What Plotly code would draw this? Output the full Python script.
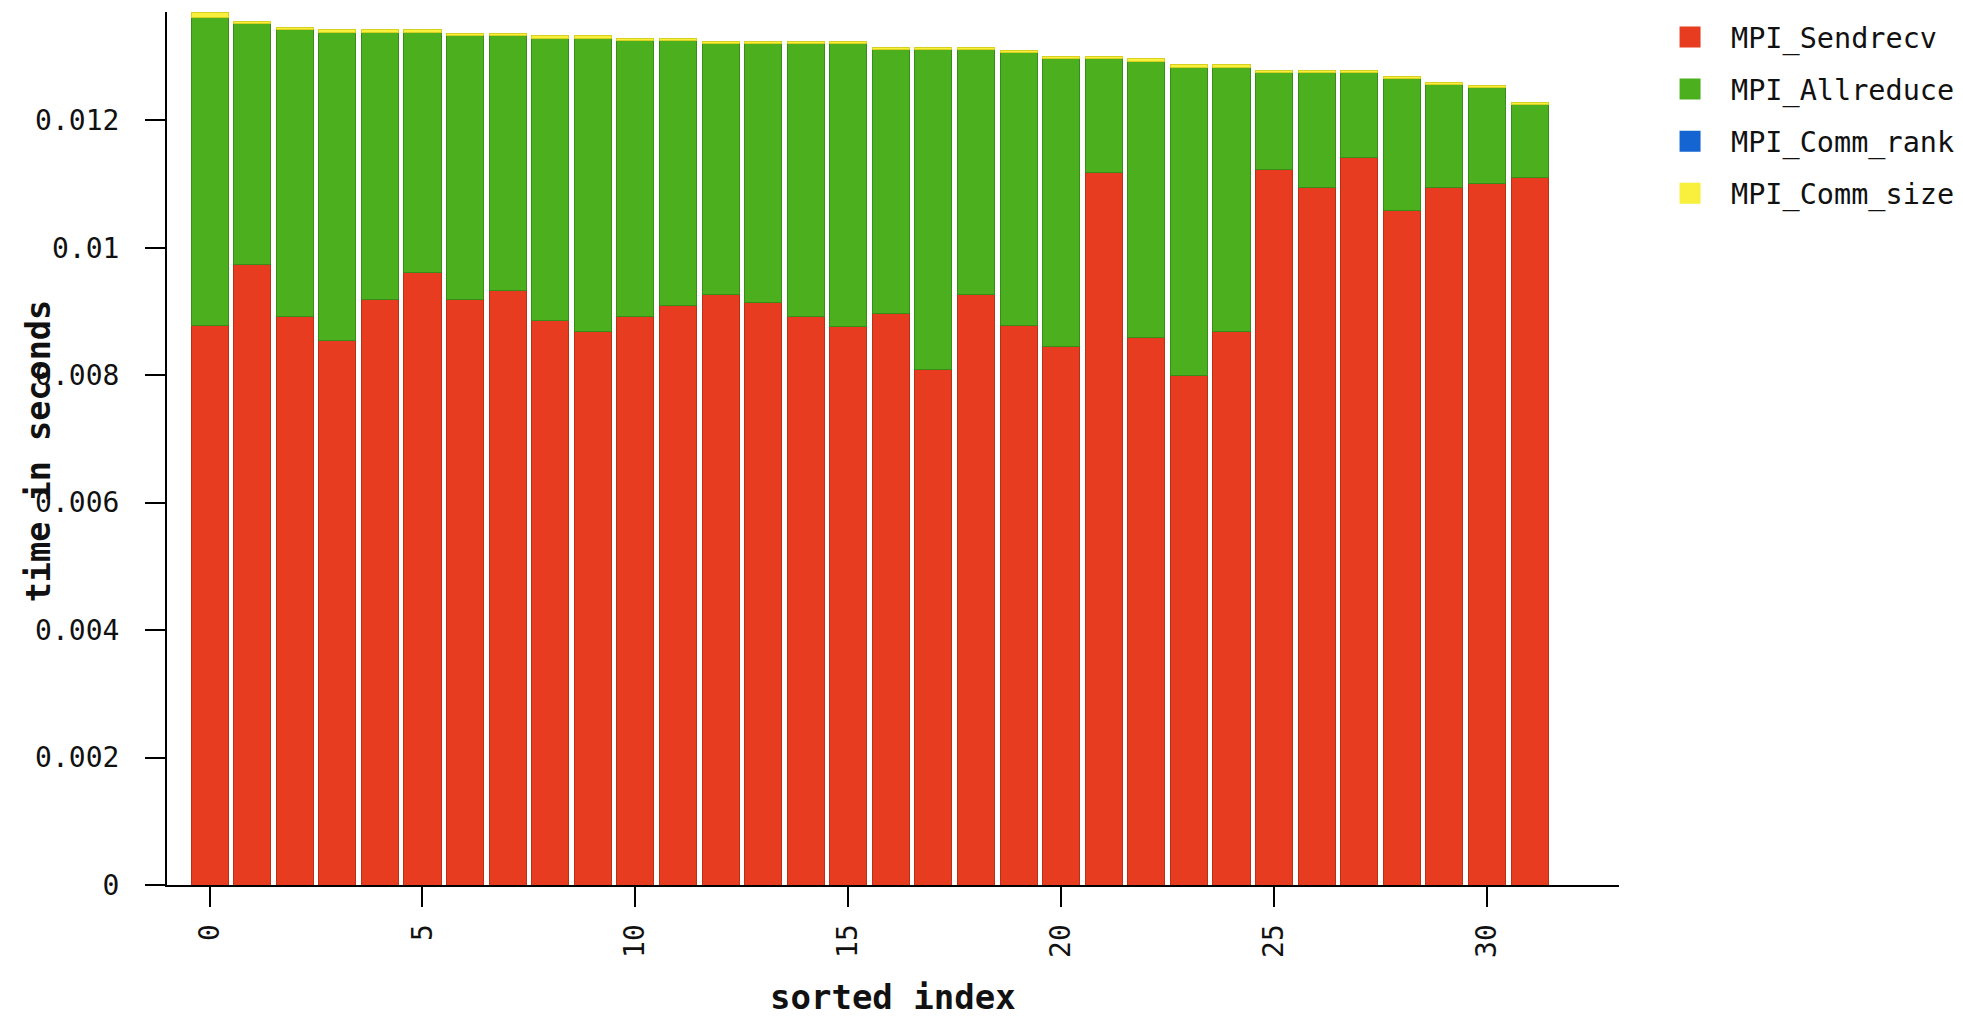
import plotly.graph_objects as go

# ---- data ----
sorted_index = list(range(32))

mpi_sendrecv = [0.008785, 0.009741, 0.008926, 0.008550, 0.009193, 0.009605, 0.009193, 0.009334,
                0.008863, 0.008691, 0.008915, 0.009099, 0.009271, 0.009135, 0.008915, 0.008770,
                0.008968, 0.008096, 0.009271, 0.008785, 0.008456, 0.011188, 0.008592, 0.008002,
                0.008680, 0.011230, 0.010953, 0.011414, 0.010588, 0.010953, 0.011006, 0.011100]

mpi_allreduce = [0.004832, 0.003773, 0.004494, 0.004828, 0.004185, 0.003773, 0.004143, 0.004002,
                 0.004421, 0.004593, 0.004335, 0.004149, 0.003930, 0.004066, 0.004286, 0.004431,
                 0.004143, 0.005015, 0.003840, 0.004284, 0.004519, 0.001787, 0.004331, 0.004832,
                 0.004154, 0.001515, 0.001792, 0.001331, 0.002069, 0.001610, 0.001514, 0.001144]

mpi_comm_rank = [0.000002] * 32

mpi_comm_size = [0.00008, 0.00004, 0.00003, 0.00005, 0.00004, 0.00004, 0.00003, 0.00003,
                 0.00004, 0.00004, 0.00003, 0.00003, 0.00003, 0.00003, 0.00003, 0.00003,
                 0.00003, 0.00003, 0.00003, 0.00003, 0.00003, 0.00003, 0.00004, 0.00004,
                 0.00004, 0.00003, 0.00003, 0.00003, 0.00003, 0.00003, 0.00003, 0.00003]

series_names = ["MPI_Sendrecv", "MPI_Allreduce", "MPI_Comm_rank", "MPI_Comm_size"]
series_values = [mpi_sendrecv, mpi_allreduce, mpi_comm_rank, mpi_comm_size]
series_colors = ["#E83C20", "#4CB01E", "#1464D2", "#F8F03C"]
edge_colors = ["#B83018", "#3A8C18", "#0E4CA0", "#D8D020"]

x_tickvals = [0, 5, 10, 15, 20, 25, 30]
y_tickvals = [0, 0.002, 0.004, 0.006, 0.008, 0.01, 0.012]
y_ticktext = ["0", "0.002", "0.004", "0.006", "0.008", "0.01", "0.012"]

x_title = "sorted index"
y_title = "time in seconds"

MONO = "DejaVu Sans Mono"

fig = go.Figure()
for name, vals, col, edge in zip(series_names, series_values, series_colors, edge_colors):
    fig.add_trace(go.Bar(
        x=sorted_index, y=vals, name=name, legendgroup=name, showlegend=False,
        marker=dict(color=col, line=dict(color=edge, width=1)),
    ))
# legend entries (larger square swatches)
for name, col in zip(series_names, series_colors):
    fig.add_trace(go.Scatter(
        x=[None], y=[None], mode="markers", name=name, legendgroup=name,
        marker=dict(symbol="square", size=16, color=col, line=dict(color=col, width=5)),
    ))

fig.update_layout(
    width=1947, height=1013,
    barmode="stack", bargap=0.13,
    plot_bgcolor="white", paper_bgcolor="white",
    margin=dict(l=159, r=336, t=4, b=136, autoexpand=False),
    font=dict(family=MONO, size=28, color="#111111"),
    legend=dict(
        x=1.0207, xanchor="left", y=1.0, yanchor="top",
        traceorder="grouped", tracegroupgap=12, itemwidth=72,
        font=dict(family=MONO, size=28.5, color="#111111"),
        itemsizing="trace", bgcolor="rgba(0,0,0,0)",
    ),
    xaxis=dict(
        range=[-1, 33.1], tickmode="array", tickvals=x_tickvals,
        tickangle=-90, ticks="outside", ticklen=20, tickwidth=2, tickcolor="black",
        showline=True, linecolor="black", linewidth=2, showgrid=False, zeroline=False,
        tickfont=dict(family=MONO, size=28, color="#111111"), ticklabelstandoff=6,
    ),
    yaxis=dict(
        range=[0, 0.0137], tickmode="array", tickvals=y_tickvals, ticktext=y_ticktext,
        ticks="outside", ticklen=20, tickwidth=2, tickcolor="black",
        showline=True, linecolor="black", linewidth=2, showgrid=False, zeroline=False,
        tickfont=dict(family=MONO, size=28, color="#111111"), ticklabelstandoff=20,
    ),
    annotations=[
        dict(text="<b>" + y_title + "</b>", xref="paper", yref="paper", x=-0.0887, y=0.497,
             xanchor="center", yanchor="middle", textangle=-90, showarrow=False,
             font=dict(family=MONO, size=33.5, color="#111111")),
        dict(text="<b>" + x_title + "</b>", xref="paper", yref="paper", x=0.5, y=-0.1283,
             xanchor="center", yanchor="middle", showarrow=False,
             font=dict(family=MONO, size=34, color="#111111")),
    ],
)

fig.write_html("out.html")
